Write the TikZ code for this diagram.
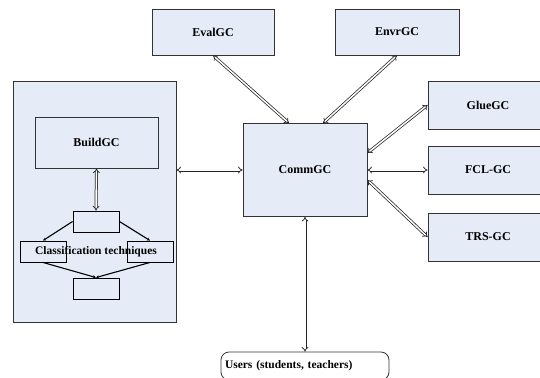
\documentclass[tikz,border=0pt]{standalone}
\usepackage{fontspec}
\setmainfont{Liberation Serif}
\usepackage{xcolor}
\usetikzlibrary{arrows.meta}
\definecolor{boxfill}{RGB}{230,236,247}

\begin{document}
\begin{tikzpicture}[x=1pt, y=-1pt,
    gcbox/.style={draw=black!80, fill=boxfill, line width=0.8pt, inner sep=0pt,
        font=\bfseries\fontsize{12}{14}\selectfont},
    smallbox/.style={draw=black, fill=boxfill, line width=0.9pt, inner sep=0pt,
        minimum width=46pt, minimum height=21pt},
    link/.style={draw=black!85, double=white, double distance=1.5pt, line width=0.75pt,
        {Implies}-{Implies}},
    flow/.style={line width=1.1pt, -{Stealth[length=3pt,width=3pt]}}]
    \useasboundingbox (0,0) rectangle (540,377);

    % Left block
    \node[gcbox, minimum width=163pt, minimum height=241pt] (outer) at (94.5,201.5) {};
    \node[gcbox, minimum width=123pt, minimum height=51pt] (build) at (96.5,142.5) {BuildGC};
    \node[smallbox] (topsm) at (96,221.5) {};
    \node[smallbox] (leftsm) at (43,251.5) {};
    \node[smallbox] (rightsm) at (150,251.5) {};
    \node[smallbox] (botsm) at (96,288.5) {};
    \node[font=\bfseries\fontsize{11.5}{13}\selectfont] (classif) at (96,252) {Classification techniques};

    % Top and centre
    \node[gcbox, minimum width=122pt, minimum height=46pt] (eval) at (213,32) {EvalGC};
    \node[gcbox, minimum width=124pt, minimum height=46pt] (envr) at (397,32) {EnvrGC};
    \node[gcbox, minimum width=124pt, minimum height=93pt] (comm) at (305,170) {CommGC};

    % Right column
    \node[gcbox, minimum width=120pt, minimum height=48pt] (glue) at (488,105) {GlueGC};
    \node[gcbox, minimum width=120pt, minimum height=48pt] (fcl) at (488,170) {FCL-GC};
    \node[gcbox, minimum width=120pt, minimum height=48pt] (trs) at (488,237) {TRS-GC};

    % Users
    \node[draw=black!80, line width=0.8pt, rounded corners=8pt, minimum width=168pt,
        minimum height=28pt, text width=160pt, align=left, inner sep=0pt,
        font=\bfseries\fontsize{11.5}{13}\selectfont] (users) at (305,366) {Users (students, teachers)};

    % Links
    \draw[link] (build.south) -- (topsm.north);
    \draw[link] (outer.east |- comm.west) -- (comm.west);
    \draw[link] (eval.south) -- ([xshift=-16pt]comm.north);
    \draw[link] (envr.south) -- ([xshift=18pt]comm.north);
    \draw[link] ([yshift=17pt]comm.east) -- (glue.west);
    \draw[link] (comm.east) -- (fcl.west);
    \draw[link] ([yshift=-10pt]comm.east) -- (trs.west);
    \draw[link] (comm.south) -- (users.north);

    % Flow inside BuildGC block
    \draw[flow] (topsm.west) -- (leftsm.north);
    \draw[flow] (topsm.east) -- (rightsm.north);
    \draw[flow] (leftsm.south) -- (botsm.north);
    \draw[flow] (rightsm.south) -- (botsm.north);
\end{tikzpicture}
\end{document}
